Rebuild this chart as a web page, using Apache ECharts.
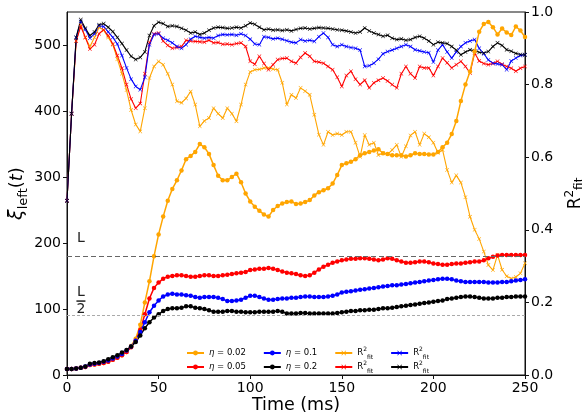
<!DOCTYPE html>
<html><head><meta charset="utf-8">
<script src="https://cdn.jsdelivr.net/npm/echarts@6/dist/echarts.min.js"></script>
<style>html,body{margin:0;padding:0;background:#fff}#c{width:582px;height:417px}</style>
</head><body><div id="c"></div>
<script>
// Time (ms)
const time = [0,2.5,5,7.5,10,12.5,15,17.5,20,22.5,
25,27.5,30,32.5,35,37.5,40,42.5,45,47.5,
50,52.5,55,57.5,60,62.5,65,67.5,70,72.5,
75,77.5,80,82.5,85,87.5,90,92.5,95,97.5,
100,102.5,105,107.5,110,112.5,115,117.5,120,122.5,
125,127.5,130,132.5,135,137.5,140,142.5,145,147.5,
150,152.5,155,157.5,160,162.5,165,167.5,170,172.5,
175,177.5,180,182.5,185,187.5,190,192.5,195,197.5,
200,202.5,205,207.5,210,212.5,215,217.5,220,222.5,
225,227.5,230,232.5,235,237.5,240,242.5,245,247.5,
250];

// xi_left(t) for each eta
const xiEta002 = [9,9,10,11,12,15,16,17,18,20,
23,26,30,35,44,55,76,110,142,180,
213,240,264,282,295,310,327,332,338,350,
345,335,318,302,295,295,300,305,292,275,
263,255,249,243,240,250,256,260,262,263,
259,260,262,265,272,277,280,283,290,303,
318,321,323,327,333,336,338,340,342,336,
335,333,333,333,331,333,336,335,335,334,
334,338,345,352,365,385,415,440,460,490,
520,532,535,527,516,525,519,515,528,522,
512];
const xiEta005 = [9,9,10,11,12,15,16,17,18,20,
23,26,30,35,42,52,68,92,116,132,
140,146,149,150,151,151,150,149,149,150,
151,151,150,150,151,152,153,154,155,156,
159,160,161,161,162,161,159,157,155,154,
153,151,150,151,155,160,164,167,170,172,
174,175,176,176,177,177,176,175,174,175,
177,176,174,172,170,170,171,172,172,171,
169,168,167,167,168,169,169,170,171,172,
172,174,177,179,181,182,182,182,182,182,
182];
const xiEta01 = [9,9,10,11,13,16,17,18,20,22,
25,28,32,37,43,52,65,80,95,105,
113,119,122,123,122,122,121,120,118,117,
118,118,118,117,115,112,112,113,114,117,
120,120,118,116,114,114,115,116,116,117,
117,118,119,119,118,118,118,119,120,122,
125,126,127,128,129,130,131,132,133,134,
135,136,136,137,138,139,140,141,142,143,
144,145,146,146,145,143,142,141,141,141,
141,141,140,140,140,141,141,142,143,144,
145];
const xiEta02 = [9,9,10,11,13,17,18,19,21,24,
27,30,34,38,43,50,60,71,80,87,
92,97,100,101,101,102,104,104,102,101,
100,98,96,96,96,97,97,96,96,95,
95,95,96,96,96,96,97,96,93,93,
93,94,94,93,93,93,93,93,93,94,
95,96,97,97,98,98,99,99,100,101,
101,102,103,104,105,106,107,108,109,110,
111,112,113,115,116,117,118,119,119,118,
117,116,116,116,117,117,118,118,119,119,
119];

// R^2_fit for each eta
const r2Eta002 = [0.48,0.72,0.92,0.965,0.93,0.905,0.93,0.958,0.95,0.93,
0.91,0.87,0.83,0.785,0.73,0.69,0.671,0.735,0.818,0.85,
0.864,0.855,0.83,0.8,0.754,0.75,0.762,0.781,0.745,0.685,
0.7,0.708,0.735,0.72,0.708,0.735,0.72,0.699,0.745,0.8,
0.835,0.841,0.842,0.846,0.846,0.843,0.841,0.805,0.745,0.772,
0.763,0.791,0.782,0.772,0.717,0.662,0.634,0.67,0.661,0.665,
0.661,0.67,0.67,0.64,0.601,0.661,0.634,0.64,0.606,0.611,
0.608,0.62,0.634,0.601,0.63,0.66,0.67,0.634,0.665,0.655,
0.64,0.612,0.62,0.565,0.53,0.55,0.53,0.49,0.436,0.40,
0.375,0.34,0.303,0.289,0.331,0.29,0.272,0.266,0.27,0.28,
0.308];
const r2Eta005 = [0.48,0.72,0.92,0.96,0.93,0.898,0.91,0.94,0.951,0.935,
0.912,0.88,0.845,0.8,0.76,0.735,0.748,0.83,0.915,0.94,
0.942,0.92,0.908,0.9,0.902,0.905,0.922,0.92,0.919,0.918,
0.917,0.922,0.915,0.916,0.911,0.912,0.91,0.913,0.915,0.905,
0.864,0.856,0.878,0.858,0.841,0.855,0.869,0.872,0.873,0.864,
0.859,0.875,0.887,0.878,0.864,0.862,0.859,0.85,0.841,0.82,
0.795,0.825,0.837,0.815,0.80,0.812,0.791,0.805,0.812,0.818,
0.81,0.8,0.791,0.83,0.85,0.83,0.818,0.85,0.846,0.846,
0.825,0.85,0.873,0.86,0.846,0.855,0.864,0.85,0.832,0.887,
0.865,0.858,0.855,0.858,0.864,0.856,0.85,0.845,0.837,0.845,
0.85];
const r2Eta01 = [0.48,0.72,0.93,0.974,0.952,0.928,0.94,0.962,0.96,0.945,
0.93,0.912,0.88,0.846,0.815,0.795,0.786,0.82,0.91,0.938,
0.94,0.928,0.922,0.915,0.905,0.9,0.91,0.925,0.933,0.93,
0.928,0.93,0.928,0.935,0.938,0.937,0.938,0.936,0.94,0.935,
0.925,0.912,0.91,0.932,0.93,0.926,0.928,0.925,0.921,0.917,
0.915,0.924,0.92,0.922,0.919,0.932,0.942,0.93,0.91,0.905,
0.91,0.905,0.902,0.9,0.895,0.85,0.852,0.859,0.87,0.885,
0.891,0.895,0.9,0.905,0.91,0.905,0.896,0.893,0.89,0.888,
0.862,0.895,0.91,0.89,0.873,0.89,0.905,0.915,0.92,0.924,
0.9,0.885,0.868,0.859,0.857,0.855,0.841,0.865,0.873,0.88,
0.882];
const r2Eta02 = [0.48,0.72,0.93,0.979,0.955,0.935,0.945,0.965,0.968,0.958,
0.946,0.93,0.913,0.895,0.878,0.869,0.875,0.89,0.935,0.962,
0.972,0.968,0.96,0.962,0.96,0.955,0.95,0.942,0.945,0.938,
0.942,0.95,0.956,0.958,0.957,0.955,0.956,0.958,0.956,0.962,
0.97,0.966,0.958,0.951,0.953,0.95,0.951,0.949,0.951,0.948,
0.952,0.955,0.956,0.953,0.955,0.957,0.956,0.955,0.953,0.951,
0.95,0.948,0.945,0.942,0.945,0.956,0.948,0.942,0.938,0.933,
0.936,0.928,0.924,0.926,0.922,0.924,0.93,0.933,0.928,0.92,
0.91,0.917,0.915,0.913,0.905,0.895,0.882,0.89,0.896,0.893,
0.889,0.887,0.891,0.905,0.915,0.908,0.896,0.892,0.886,0.883,
0.882];

// Reference levels
const levelL = 180;
const levelHalfL = 90;

// Tick labels
const xTicks = [0,50,100,150,200,250];
const yLeftTicks = [0,100,200,300,400,500];
const yRightTicks = [0,0.2,0.4,0.6,0.8,1.0];

const colors = ['#FFA500','#FF0000','#0000FF','#000000'];
const xiNames = ['xi002','xi005','xi01','xi02'];
const r2Names = ['r2002','r2005','r201','r202'];
const etaLabels = ['0.02','0.05','0.1','0.2'];
const xiData = [xiEta002, xiEta005, xiEta01, xiEta02];
const r2Data = [r2Eta002, r2Eta005, r2Eta01, r2Eta02];

const xSym = 'path://M0,1L1,0L5,4L9,0L10,1L6,5L10,9L9,10L5,6L1,10L0,9L4,5Z';
const pair = arr => time.map((t,i)=>[t, arr[i]]);

const series = [];
xiData.forEach((d,k)=>{
  series.push({
    name: xiNames[k], type:'line', xAxisIndex:0, yAxisIndex:0,
    data: pair(d), symbol:'circle', symbolSize:4.5, showAllSymbol:true,
    lineStyle:{width:1.5, color:colors[k]}, itemStyle:{color:colors[k]},
    z: 3
  });
});
r2Data.forEach((d,k)=>{
  series.push({
    name: r2Names[k], type:'line', xAxisIndex:0, yAxisIndex:1,
    data: pair(d), symbol:xSym, symbolSize:4, showAllSymbol:true,
    lineStyle:{width:1.1, color:colors[k]}, itemStyle:{color:colors[k]},
    z: 2
  });
});
// reference lines and their labels
series[3].markLine = {
  silent:true, symbol:['none','none'], label:{show:false},
  data:[
    {yAxis:levelL, lineStyle:{color:'#666', type:[5,3], width:1}},
    {yAxis:levelHalfL, lineStyle:{color:'#aaa', type:[3,2], width:1}}
  ]
};
series[3].markPoint = {
  silent:true, symbol:'circle', symbolSize:1, itemStyle:{color:'rgba(0,0,0,0)'},
  data:[
    {coord:[7.6, 207], label:{show:true, position:'inside', formatter:'L', color:'#222', fontSize:14, fontFamily:'DejaVu Sans'}},
    {coord:[7.6, 112], label:{show:true, position:'inside', formatter:'{a|L}\n{b| }\n{a|2}', color:'#222',
      rich:{a:{fontSize:14, lineHeight:13, fontFamily:'DejaVu Sans', color:'#222', align:'center'},
            b:{width:9, height:1.5, lineHeight:4, fontSize:1, backgroundColor:'#222', align:'center'}}}}
  ]
};

const legendText = {};
xiNames.forEach((n,k)=>{ legendText[n] = '{i|η} = ' + etaLabels[k]; });
r2Names.forEach(n=>{ legendText[n] = 'R{sup|2}{sub|fit}'; });

const legendCommon = {
  orient:'horizontal', left:181, itemWidth:17, itemHeight:6, itemGap:17,
  textStyle:{fontSize:8.5, fontFamily:'DejaVu Sans', color:'#000',
    rich:{i:{fontSize:8.5, fontStyle:'italic', fontFamily:'DejaVu Sans'},
          sup:{fontSize:6, verticalAlign:'top', lineHeight:6},
          sub:{fontSize:6, verticalAlign:'bottom', lineHeight:14}}},
  formatter: n => legendText[n],
  selectedMode:false
};

const chart = echarts.init(document.getElementById('c'), null, {renderer:'canvas'});
chart.setOption({
  animation:false,
  textStyle:{fontFamily:'DejaVu Sans'},
  grid:{left:67, right:57, top:12, bottom:42, containLabel:false, outerBoundsMode:'none',
        show:true, borderColor:'#111', borderWidth:1, backgroundColor:'transparent'},
  legend:[
    Object.assign({}, legendCommon, {top:341, data:[xiNames[0], xiNames[2], r2Names[0], r2Names[2]]}),
    Object.assign({}, legendCommon, {top:355, data:[xiNames[1], xiNames[3], r2Names[1], r2Names[3]]})
  ],
  xAxis:{
    type:'value', min:0, max:250, interval:50,
    name:'Time (ms)', nameLocation:'middle', nameGap:21, nameMoveOverlap:false,
    nameTextStyle:{fontSize:17.5, color:'#000', fontFamily:'DejaVu Sans', verticalAlign:'top'},
    axisLine:{show:true, lineStyle:{color:'#111'}},
    axisTick:{show:true, length:4, lineStyle:{color:'#111'}, customValues:xTicks},
    axisLabel:{fontSize:14, color:'#000', margin:6, customValues:xTicks},
    splitLine:{show:false}
  },
  yAxis:[
    {
      type:'value', min:0, max:550, interval:100, position:'left',
      name:'{x|ξ}{s|left}{p|(}{t|t}{p|)}', nameLocation:'middle', nameGap:37, nameRotate:90, nameMoveOverlap:false,
      nameTextStyle:{color:'#000', rich:{
        x:{fontSize:19, fontStyle:'italic', fontFamily:'DejaVu Sans', color:'#000'},
        s:{fontSize:13, verticalAlign:'bottom', fontFamily:'DejaVu Sans', color:'#000', lineHeight:26},
        p:{fontSize:18, fontFamily:'DejaVu Sans', color:'#000'},
        t:{fontSize:18, fontStyle:'italic', fontFamily:'DejaVu Sans', color:'#000'}}},
      axisLine:{show:true, lineStyle:{color:'#111'}},
      axisTick:{show:true, length:4, lineStyle:{color:'#111'}, customValues:yLeftTicks},
      axisLabel:{fontSize:14, color:'#000', margin:6, customValues:yLeftTicks},
      splitLine:{show:false}
    },
    {
      type:'value', min:0, max:1, interval:0.2, position:'right',
      name:'{r|R}{sup|2}{sub|fit}', nameLocation:'middle', nameGap:30, nameRotate:90,
      nameTextStyle:{color:'#000', rich:{
        r:{fontSize:17, fontFamily:'DejaVu Sans', color:'#000'},
        sup:{fontSize:12, verticalAlign:'top', fontFamily:'DejaVu Sans', color:'#000', lineHeight:12},
        sub:{fontSize:12, verticalAlign:'bottom', fontFamily:'DejaVu Sans', color:'#000', lineHeight:22}}},
      axisLine:{show:true, lineStyle:{color:'#111'}},
      axisTick:{show:true, length:4, lineStyle:{color:'#111'}, customValues:yRightTicks},
      axisLabel:{fontSize:14, color:'#000', margin:6, customValues:yRightTicks, formatter:v=>v.toFixed(1)},
      splitLine:{show:false}
    }
  ],
  series: series
});
</script>
</body></html>
